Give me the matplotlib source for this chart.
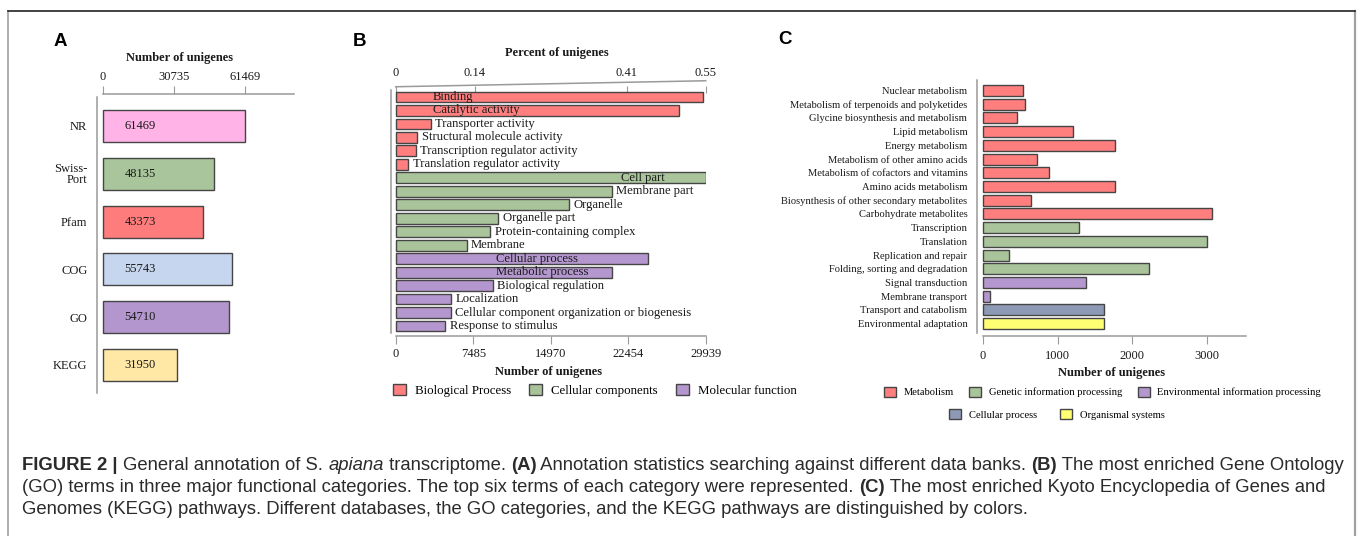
import numpy as np
import matplotlib
matplotlib.use("Agg")
import matplotlib.pyplot as plt
from matplotlib.patches import Patch
from matplotlib.transforms import blended_transform_factory

W, H = 1358, 536

# ---- data ----
db_names = ['NR', 'Swiss-\nPort', 'Pfam', 'COG', 'GO', 'KEGG']
db_counts = [61469, 48135, 43373, 55743, 54710, 31950]
db_colors = ['#FFB3E6', '#A9C59B', '#FF7C7C', '#C6D6EE', '#B496CF', '#FFE8A5']
db_ticks = [0, 30735, 61469]

go_terms = ['Binding', 'Catalytic activity', 'Transporter activity',
            'Structural molecule activity', 'Transcription regulator activity',
            'Translation regulator activity',
            'Cell part', 'Membrane part', 'Organelle', 'Organelle part',
            'Protein-containing complex', 'Membrane',
            'Cellular process', 'Metabolic process', 'Biological regulation',
            'Localization', 'Cellular component organization or biogenesis',
            'Response to stimulus']
go_counts = [29650, 27390, 3380, 2090, 1930, 1220,
             29939, 20860, 16770, 9910, 9140, 6860,
             24400, 20860, 9370, 5340, 5340, 4790]
go_groups = [0] * 6 + [1] * 6 + [2] * 6
go_group_names = ['Biological Process', 'Cellular components', 'Molecular function']
go_colors = ['#FF7F7F', '#A9C49A', '#B597CF']
go_ticks = [0, 7485, 14970, 22454, 29939]
pct_ticks = [0, 0.14, 0.41, 0.55]

kegg_terms = ['Nuclear metabolism', 'Metabolism of terpenoids and polyketides',
              'Glycine biosynthesis and metabolism', 'Lipid metabolism',
              'Energy metabolism', 'Metabolism of other amino acids',
              'Metabolism of cofactors and vitamins', 'Amino acids metabolism',
              'Biosynthesis of other secondary metabolites', 'Carbohydrate metabolites',
              'Transcription', 'Translation', 'Replication and repair',
              'Folding, sorting and degradation', 'Signal transduction',
              'Membrane transport', 'Transport and catabolism',
              'Environmental adaptation']
kegg_counts = [532, 559, 460, 1202, 1769, 720, 880, 1769, 639, 3075,
               1291, 3009, 346, 2221, 1382, 89, 1625, 1625]
kegg_groups = [0] * 10 + [1] * 4 + [2] * 2 + [3] + [4]
kegg_group_names = ['Metabolism', 'Genetic information processing',
                    'Environmental information processing',
                    'Cellular process', 'Organismal systems']
kegg_colors = ['#FF7F7F', '#A9C49A', '#B597CF', '#8E9AB5', '#FFFF73']
kegg_ticks = [0, 1000, 2000, 3000]

SERIF = 'Liberation Serif'
SANS = 'Liberation Sans'
EDGE = '#454545'
AXC = '#9A9A9A'
TXT = '#1A1A1A'


def fx(x):
    return x / W


def fy(y):
    return 1 - y / H


def box(l, t, r, b):
    return [fx(l), fy(b), (r - l) / W, (b - t) / H]


def clean(ax):
    for s in ax.spines.values():
        s.set_color(AXC)
        s.set_linewidth(1.1)


plt.rcParams['font.family'] = SERIF
fig = plt.figure(figsize=(W / 100, H / 100), dpi=100)

# frame
fig.add_artist(plt.Line2D([fx(7.5), fx(7.5)], [0, fy(11)], color='#A0A0A0', lw=1.2))
fig.add_artist(plt.Line2D([fx(1355), fx(1355)], [0, fy(11)], color='#A0A0A0', lw=1.6))
fig.add_artist(plt.Line2D([fx(7.5), fx(1355)], [fy(11), fy(11)], color='#222222', lw=1.2))

# ---- panel A ----
axA = fig.add_axes(box(97, 94, 294, 393))
y = np.arange(len(db_names))
axA.barh(y, db_counts, height=0.67, color=db_colors, edgecolor=EDGE, linewidth=1.0)
for i, v in enumerate(db_counts):
    axA.text(16000, i, str(v), ha='center', va='center', fontsize=9, color=TXT)
axA.set_xlim(-2600, 82680)
axA.set_ylim(5.586, -0.669)
clean(axA)
axA.spines['right'].set_visible(False)
axA.spines['bottom'].set_visible(False)
axA.spines['top'].set_bounds(0, 82680)
axA.spines['left'].set_bounds(-0.606, 5.586)
axA.xaxis.tick_top()
axA.set_xticks(db_ticks, [str(t) for t in db_ticks])
axA.tick_params(axis='x', direction='out', length=6, color=AXC, labelsize=9, pad=2, labelcolor=TXT)
axA.set_yticks(y, db_names)
axA.tick_params(axis='y', length=0, labelsize=9, pad=7, labelcolor=TXT)
for lbl in axA.get_yticklabels():
    lbl.set_linespacing(0.85)
fig.text(fx(180), fy(58), 'Number of unigenes', ha='center', va='center',
         fontsize=9, fontweight='bold', color=TXT)
fig.text(fx(60), fy(41.5), 'A', ha='center', va='center', fontsize=13.5,
         fontweight='bold', family=SANS)

# ---- panel B ----
axB = fig.add_axes(box(391, 86, 706, 335.7))
yb = np.arange(len(go_terms))
axB.barh(yb, go_counts, height=0.8, color=[go_colors[g] for g in go_groups],
         edgecolor=EDGE, linewidth=1.0)
inside_x = {'Binding': 3600, 'Catalytic activity': 3600, 'Cell part': 21760,
            'Cellular process': 9700, 'Metabolic process': 9700}
for i, (t, v) in enumerate(zip(go_terms, go_counts)):
    xpos = inside_x.get(t, v + 420)
    axB.text(xpos, i, t, ha='left', va='center', fontsize=9.1, color=TXT)
axB.set_xlim(-454, 29970)
axB.set_ylim(17.72, -0.817)
clean(axB)
axB.spines['right'].set_visible(False)
axB.spines['top'].set_visible(False)
axB.spines['bottom'].set_bounds(0, go_ticks[-1])
axB.spines['left'].set_bounds(-0.52, 17.5)
axB.set_yticks([])
axB.set_xticks(go_ticks, [str(t) for t in go_ticks])
axB.tick_params(axis='x', direction='out', length=6, color=AXC, labelsize=9, pad=3, labelcolor=TXT)
axB.set_xlabel('Number of unigenes', fontsize=9, fontweight='bold', labelpad=4, color=TXT)

sec = axB.secondary_xaxis('top', functions=(lambda c: c / go_ticks[-1] * pct_ticks[-1],
                                            lambda p: p / pct_ticks[-1] * go_ticks[-1]))
sec.set_xticks(pct_ticks, ['0', '0.14', '0.41', '0.55'])
sec.spines['top'].set_visible(False)
sec.tick_params(direction='in', length=5, color=AXC, labelsize=9, pad=5, labelcolor=TXT)
tb = blended_transform_factory(axB.transData, axB.transAxes)
axB.plot([0, go_ticks[-1]], [0.997, 1.021], color=AXC, lw=1.1, transform=tb, clip_on=False)
fig.text(fx(557), fy(53), 'Percent of unigenes', ha='center', va='center',
         fontsize=9, fontweight='bold', color=TXT)
fig.text(fx(359), fy(41), 'B', ha='center', va='center', fontsize=13.5,
         fontweight='bold', family=SANS)

hB = [Patch(facecolor=c, edgecolor=EDGE, linewidth=1.0) for c in go_colors]
fig.legend(hB, go_group_names, loc='upper left', bbox_to_anchor=(fx(393), fy(384)),
           ncol=3, frameon=False, fontsize=9.3, handlelength=1.0, handleheight=0.95,
           handletextpad=0.7, columnspacing=1.4, borderpad=0, borderaxespad=0)

# ---- panel C ----
axC = fig.add_axes(box(977, 80, 1246, 335.7))
yc = np.arange(len(kegg_terms))
axC.barh(yc, kegg_counts, height=0.8, color=[kegg_colors[g] for g in kegg_groups],
         edgecolor=EDGE, linewidth=1.0)
axC.set_xlim(-80, 3525)
axC.set_ylim(17.875, -0.765)
clean(axC)
axC.spines['right'].set_visible(False)
axC.spines['top'].set_visible(False)
axC.spines['bottom'].set_bounds(0, 3525)
axC.spines['left'].set_bounds(-0.765, 17.68)
axC.set_yticks(yc, kegg_terms)
axC.tick_params(axis='y', length=0, labelsize=7.6, pad=7, labelcolor=TXT)
axC.set_xticks(kegg_ticks, [str(t) for t in kegg_ticks])
axC.tick_params(axis='x', direction='out', length=6, color=AXC, labelsize=9, pad=4, labelcolor=TXT)
axC.set_xlabel('Number of unigenes', fontsize=9, fontweight='bold', labelpad=4, color=TXT)
fig.text(fx(785), fy(40), 'C', ha='center', va='center', fontsize=13.5,
         fontweight='bold', family=SANS)

hC = [Patch(facecolor=c, edgecolor=EDGE, linewidth=1.0) for c in kegg_colors]
fig.legend(hC[:3], kegg_group_names[:3], loc='upper left',
           bbox_to_anchor=(fx(884), fy(386.5)), ncol=3, frameon=False,
           fontsize=7.6, handlelength=1.12, handleheight=1.1, handletextpad=0.75,
           columnspacing=1.45, borderpad=0, borderaxespad=0)
fig.legend(hC[3:], kegg_group_names[3:], loc='upper left',
           bbox_to_anchor=(fx(949), fy(409)), ncol=2, frameon=False,
           fontsize=7.6, handlelength=1.12, handleheight=1.1, handletextpad=0.75,
           columnspacing=2.2, borderpad=0, borderaxespad=0)

# ---- caption ----
cap_lines = [
    [('FIGURE 2 | ', 'bold', 'normal'), ('General annotation of S. ', 'normal', 'normal'),
     ('apiana', 'normal', 'italic'), (' transcriptome. ', 'normal', 'normal'),
     ('(A)', 'bold', 'normal'),
     (' Annotation statistics searching against different data banks. ', 'normal', 'normal'),
     ('(B)', 'bold', 'normal'), (' The most enriched Gene Ontology', 'normal', 'normal')],
    [('(GO) terms in three major functional categories. The top six terms of each category were represented. ', 'normal', 'normal'),
     ('(C)', 'bold', 'normal'), (' The most enriched Kyoto Encyclopedia of Genes and', 'normal', 'normal')],
    [('Genomes (KEGG) pathways. Different databases, the GO categories, and the KEGG pathways are distinguished by colors.', 'normal', 'normal')],
]
renderer = fig.canvas.get_renderer()
for k, runs in enumerate(cap_lines):
    x = 22.5
    for txt, wt, st in runs:
        t = fig.text(fx(x), fy(466 + 22 * k), txt, ha='left', va='center', fontsize=13.3,
                     fontweight=wt, fontstyle=st, family=SANS, color='#2B2B2B')
        x += t.get_window_extent(renderer=renderer).width

fig.savefig('out.png', dpi=100)
